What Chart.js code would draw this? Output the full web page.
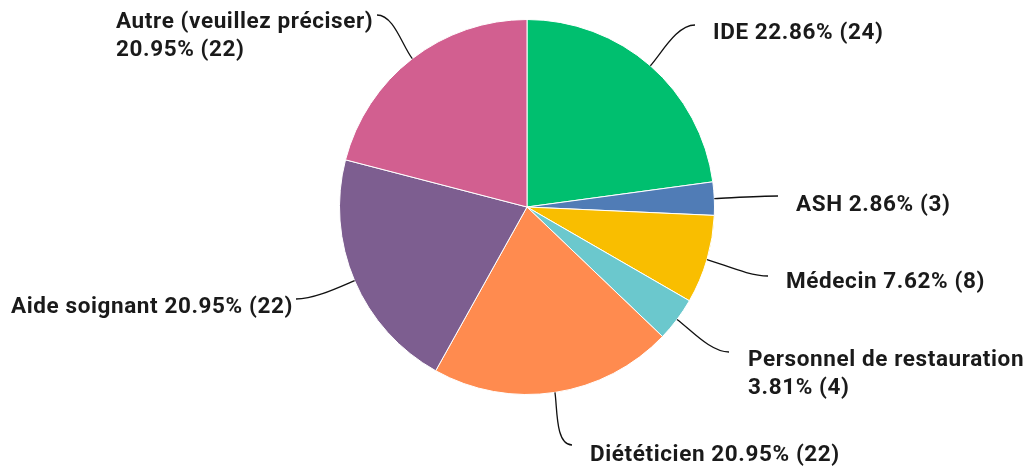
<!DOCTYPE html>
<html>
<head>
<meta charset="utf-8">
<script src="https://cdn.jsdelivr.net/npm/chart.js@4"></script>
<style>
  html, body { margin: 0; padding: 0; background: #fff; }
  #wrap { width: 1030px; height: 466px; }
</style>
</head>
<body>
<div id="wrap"><canvas id="chartCanvas" width="1030" height="466"></canvas></div>
<script>
// Survey answers (count per category)
const categories = ['IDE', 'ASH', 'Médecin', 'Personnel de restauration', 'Diététicien', 'Aide soignant', 'Autre (veuillez préciser)'];
const counts = [24, 3, 8, 4, 22, 22, 22];
const colors = ['#00BF6F', '#507CB6', '#F9BE00', '#6BC8CD', '#FF8B4F', '#7D5E90', '#D25F90'];

// label placement relative to pie center: line end (lx, ly), text anchor (tx, ty), align, wrap
const labelLayout = [
  { lx: 168, ly: -182, tx: 186, ty: -174, align: 'left', wrap: false },
  { lx: 251, ly: -11, tx: 269, ty: -2, align: 'left', wrap: false },
  { lx: 241, ly: 69, tx: 259, ty: 75, align: 'left', wrap: false },
  { lx: 202, ly: 145, tx: 221, ty: 153, align: 'left', wrap: true },
  { lx: 45, ly: 238, tx: 63, ty: 248, align: 'left', wrap: false },
  { lx: -231, ly: 92, tx: -234, ty: 100, align: 'right', wrap: false },
  { lx: -150, ly: -192, tx: -411, ty: -185, align: 'left', wrap: true }
];

const total = counts.reduce((a, b) => a + b, 0);

const outsideLabels = {
  id: 'outsideLabels',
  afterDraw(chart) {
    const ctx = chart.ctx;
    const meta = chart.getDatasetMeta(0);
    ctx.save();
    ctx.font = '700 22.5px Roboto';
    ctx.letterSpacing = '0.6px';
    ctx.fillStyle = '#1a1a1a';
    ctx.strokeStyle = '#111';
    ctx.lineWidth = 1.3;
    ctx.textBaseline = 'middle';
    meta.data.forEach((arc, i) => {
      const cx = arc.x, cy = arc.y, r = arc.outerRadius;
      const mid = (arc.startAngle + arc.endAngle) / 2;
      const dx = Math.cos(mid), dy = Math.sin(mid);
      const sx = cx + dx * r, sy = cy + dy * r;
      const L = labelLayout[i];
      const ex = cx + L.lx, ey = cy + L.ly;
      const d = Math.hypot(ex - sx, ey - sy);
      const k = d * 0.3;
      const hdir = ex > sx ? -1 : 1;
      ctx.beginPath();
      ctx.moveTo(sx, sy);
      ctx.bezierCurveTo(sx + dx * k, sy + dy * k, ex + hdir * k, ey, ex, ey);
      ctx.stroke();

      const pct = (counts[i] / total * 100).toFixed(2) + '% (' + counts[i] + ')';
      ctx.textAlign = L.align;
      if (L.wrap) {
        ctx.fillText(categories[i], cx + L.tx, cy + L.ty);
        ctx.fillText(pct, cx + L.tx, cy + L.ty + 28);
      } else {
        ctx.fillText(categories[i] + ' ' + pct, cx + L.tx, cy + L.ty);
      }
    });
    ctx.restore();
  }
};

const ctx = document.getElementById('chartCanvas').getContext('2d');
new Chart(ctx, {
  type: 'pie',
  data: {
    labels: categories,
    datasets: [{
      data: counts,
      backgroundColor: colors,
      borderColor: '#ffffff',
      borderWidth: 1
    }]
  },
  options: {
    responsive: false,
    animation: false,
    layout: { padding: { top: 19, bottom: 71, left: 100, right: 76 } },
    plugins: {
      legend: { display: false },
      tooltip: { enabled: false }
    }
  },
  plugins: [outsideLabels]
});
</script>
</body>
</html>
